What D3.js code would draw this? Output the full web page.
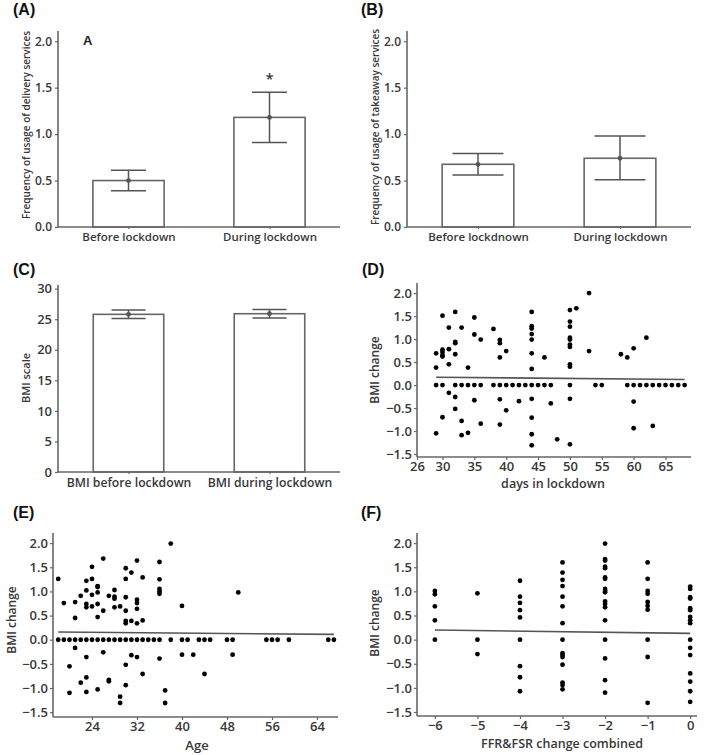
<!DOCTYPE html>
<html><head><meta charset="utf-8">
<script src="https://cdn.jsdelivr.net/npm/d3@7"></script>
<style>
body{margin:0;background:#fff;}
svg text{font-family:"Open Sans",sans-serif;}
</style></head>
<body><svg id="c" width="709" height="755"></svg>
<script>
// ---------- data ----------
const catsA = ["Before lockdown", "During lockdown"];
const meanA = [0.50, 1.18];
const loA = [0.39, 0.91];
const hiA = [0.61, 1.45];

const catsB = ["Before lockdnown", "During lockdown"];
const meanB = [0.675, 0.74];
const loB = [0.56, 0.51];
const hiB = [0.79, 0.98];

const catsC = ["BMI before lockdown", "BMI during lockdown"];
const meanC = [25.8, 25.9];
const loC = [25.1, 25.2];
const hiC = [26.5, 26.6];

const ticksAB = [0, 0.5, 1.0, 1.5, 2.0];
const ticksC = [0, 5, 10, 15, 20, 25, 30];
const ticksBMIchange = [-1.5, -1.0, -0.5, 0.0, 0.5, 1.0, 1.5, 2.0];
const ticksDays = [26, 30, 35, 40, 45, 50, 55, 60, 65];
const ticksAge = [24, 32, 40, 48, 56, 64];
const ticksFFR = [-6, -5, -4, -3, -2, -1, 0];

// D: days in lockdown vs BMI change
const daysX = [29,29,29,29, 30,30,30,30,30,30,30, 31,31,31,31, 32,32,32,32,32,32,32, 33,33,33,33, 34,34,34, 35,35,35,35, 36,36,36, 38,38, 39,39,39,39,39,39, 40,40,40, 41, 42,42, 43,
 44,44,44,44,44,44,44,44,44,44,44,44, 45, 46,46, 47,47, 48,
 50,50,50,50,50,50,50,50,50,50,50,50, 51, 53,53, 54, 55, 58, 59,59, 60,60,60,60, 61, 62,62, 63,63, 64, 65, 66, 67, 68];
const daysY = [-1.05,0.38,0.69,0, 0,1.51,0.77,0.72,0.65,0.62,-0.70, 1.25,0.78,0.45,-0.17, 1.59,0.94,0.91,0.67,0,-0.26,-0.52, 1.25,0,-0.78,-1.09, 0.38,0,-1.04, 1.47,1.10,0,-0.33, 0.99,0,-0.84, 1.22,0, 0.98,0.91,0.60,0,-0.31,-0.86, 0.74,0,-0.55, 0, -0.35,0, 0,
 1.59,1.28,1.23,1.11,0.99,0.69,0.35,0,-0.30,-0.71,-1.07,-1.31, 0, 0.60,0, 0,-0.40, -1.18,
 1.63,1.38,1.27,1.03,0.99,0.88,0.83,0.45,0.40,0,-0.30,-1.29, 1.67, 2.0,0.74, 0, 0, 0.67, 0.60,0, 0.80,0,-0.36,-0.94, 0, 1.03,0, -0.89,0, 0, 0, 0, 0, 0];
const trendD = [[29, 0.17], [68, 0.12]];

// E: age vs BMI change
const ageX = [18,18, 19,19, 20,20,20, 21,21,21,21, 22,22,22, 23,23,23,23,23,23,23,23, 24,24,24,24,24, 25,25,25,25,25,25,25, 26,26,26,26, 27,27,27,27, 28,28,28,28,28, 29,29,29,29,
 30,30,30,30,30,30,30,30,30, 31,31,31,31, 32,32,32,32,32,32,32, 33,33,33,33, 34, 35, 36,36,36,36,36,36,36, 37,37, 38,38, 40,40,40, 41, 42, 43, 44,44, 45, 48, 49,49, 50, 55, 56, 57, 59, 66, 67];
const ageY = [1.26,0, 0.76,0, -1.10,-0.55,0, 0.78,0.45,-0.17,0, 0.91,-0.89,0, 1.22,1.02,0.74,0.67,-0.36,-0.78,-1.08,0, 1.51,1.26,0.93,0.69,0, 1.11,1.09,0.98,0.74,0.47,-1.03,0, 1.68,0.60,-0.26,0, 0.91,-0.83,-0.86,0, 1.03,0.89,0.85,0.67,0, 0.69,-1.18,-1.31,0,
 1.48,1.26,0.88,0.60,0.39,0.34,-0.52,-0.94,0, 1.39,0.39,-0.32,0, 1.64,0.83,0.76,0.64,0.34,-0.36,0, 1.29,0.40,-0.71,0, 0, 0, 1.61,1.25,1.05,1.00,0.95,-0.39,0, -1.05,-1.31, 1.99,0, 0.70,-0.31,0, 0, -0.31, 0, 0,-0.71, 0, 0, 0,-0.31, 0.98, 0, 0, 0, 0, 0, 0];
const trendE = [[18, 0.16], [67, 0.11]];

// F: FFR&FSR change combined vs BMI change
const ffrX = [-6,-6,-6,-6,-6, -5,-5,-5, -4,-4,-4,-4,-4,-4,-4,-4,-4,
 -3,-3,-3,-3,-3,-3,-3,-3,-3,-3,-3,-3,-3,-3,-3,
 -2,-2,-2,-2,-2,-2,-2,-2,-2,-2,-2,-2,-2,-2,-2,-2,-2,-2,
 -1,-1,-1,-1,-1,-1,-1,-1,-1,-1,
 0,0,0,0,0,0,0,0,0,0,0,0,0,0,0,0];
const ffrY = [1.01,0.94,0.69,0.40,0, 0.96,0,-0.30, 1.22,0.89,0.76,0.61,0.46,0,-0.55,-0.78,-1.07,
 1.60,1.39,1.24,1.11,0.89,0.69,0.34,0,-0.28,-0.32,-0.36,-0.52,-0.89,-0.94,-1.03,
 1.99,1.67,1.64,1.51,1.48,1.29,1.26,1.05,1.01,0.98,0.79,0.74,0.67,0.40,0,-0.39,-0.84,-1.10,
 1.60,1.26,1.01,0.95,0.78,0.70,0.62,0,-0.36,-1.31,
 1.10,1.05,0.88,0.85,0.65,0.61,0.47,0.40,0.34,0,-0.17,-0.32,-0.70,-0.87,-1.07,-1.29];
const trendF = [[-6, 0.20], [0, 0.13]];

// ---------- drawing ----------
const svg = d3.select("#c");
const AX = "#666", TXT = "#383838";

function panelLabel(t, x, y) {
  svg.append("text").attr("x", x).attr("y", y).text(t)
    .style("font-family", "Arial, 'Liberation Sans', sans-serif")
    .attr("font-size", 16).attr("font-weight", "bold").attr("fill", "#111");
}

function styleAxis(g, fs) {
  g.select(".domain").attr("stroke", AX).attr("stroke-width", 1.6);
  g.selectAll(".tick line").attr("stroke", AX).attr("stroke-width", 1.2);
  g.selectAll(".tick text").attr("fill", TXT).attr("font-size", fs).attr("font-weight", 600);
}

function yTitle(t, x, y, fs) {
  svg.append("text").attr("transform", `translate(${x},${y}) rotate(-90)`)
    .attr("text-anchor", "middle").attr("dominant-baseline", "middle")
    .attr("font-size", fs).attr("font-weight", 600).attr("fill", TXT).text(t);
}
function xTitle(t, x, y, fs) {
  svg.append("text").attr("x", x).attr("y", y).attr("text-anchor", "middle")
    .attr("font-size", fs).attr("font-weight", 600).attr("fill", TXT).text(t);
}

function barPanel(o) {
  const x = d3.scalePoint().domain(o.cats).range([o.x0, o.x1]).padding(0.5);
  const y = d3.scaleLinear().domain(o.ydom).range([o.y0, o.y1]);
  const g = svg.append("g");
  const rows = o.cats.map((c, i) => ({c, m: o.mean[i], lo: o.lo[i], hi: o.hi[i]}));
  const bw = x.step() * o.bwf;
  g.selectAll("rect.bar").data(rows).join("rect").attr("class", "bar")
    .attr("x", d => x(d.c) - bw / 2).attr("width", bw)
    .attr("y", d => y(d.m)).attr("height", d => y(0) - y(d.m))
    .attr("fill", "#fff").attr("stroke", AX).attr("stroke-width", 1.6);
  g.selectAll("line.v").data(rows).join("line")
    .attr("x1", d => x(d.c)).attr("x2", d => x(d.c))
    .attr("y1", d => y(d.lo)).attr("y2", d => y(d.hi))
    .attr("stroke", "#555").attr("stroke-width", 1.5);
  ["lo", "hi"].forEach(k => {
    g.selectAll("line.c" + k).data(rows).join("line")
      .attr("x1", d => x(d.c) - o.cap / 2).attr("x2", d => x(d.c) + o.cap / 2)
      .attr("y1", d => y(d[k])).attr("y2", d => y(d[k]))
      .attr("stroke", "#555").attr("stroke-width", 1.5);
  });
  g.selectAll("circle").data(rows).join("circle")
    .attr("cx", d => x(d.c)).attr("cy", d => y(d.m)).attr("r", 2.4).attr("fill", "#555");
  const ya = g.append("g").attr("transform", `translate(${o.x0},0)`)
    .call(d3.axisLeft(y).tickValues(o.ticks).tickFormat(o.fmt).tickSize(3).tickPadding(3));
  ya.select(".domain").attr("d", `M0,${o.y1}V${o.y0}`);
  styleAxis(ya, o.fs);
  const xa = g.append("g").attr("transform", `translate(0,${o.y0})`)
    .call(d3.axisBottom(x).tickSize(2).tickPadding(4));
  xa.select(".domain").attr("d", `M${o.x0},0H${o.x1}`);
  styleAxis(xa, o.cfs);
  return {x, y, g};
}

function scatterPanel(o) {
  const x = d3.scaleLinear().domain(o.xdom).range([o.x0, o.x1]);
  const y = d3.scaleLinear().domain(o.ydom).range([o.y0, o.y1]);
  const g = svg.append("g");
  const pts = o.xs.map((v, i) => [v, o.ys[i]]);
  g.selectAll("circle").data(pts).join("circle")
    .attr("cx", d => x(d[0])).attr("cy", d => y(d[1])).attr("r", 2.4).attr("fill", "#000");
  g.append("path").datum(o.trend)
    .attr("d", d3.line().x(d => x(d[0])).y(d => y(d[1])))
    .attr("stroke", "#555").attr("stroke-width", 1.6).attr("fill", "none");
  const ya = g.append("g").attr("transform", `translate(${o.x0},0)`)
    .call(d3.axisLeft(y).tickValues(ticksBMIchange).tickFormat(d3.format(".1f")).tickSize(3).tickPadding(2));
  ya.select(".domain").attr("d", `M0,${o.y1}V${o.y0}`);
  styleAxis(ya, o.fs);
  const xa = g.append("g").attr("transform", `translate(0,${o.y0})`)
    .call(d3.axisBottom(x).tickValues(o.xticks).tickFormat(d3.format("d")).tickSize(3).tickPadding(2));
  xa.select(".domain").attr("d", `M${o.x0},0H${o.x1}`);
  styleAxis(xa, o.fs);
  return {x, y, g};
}

// (A)
panelLabel("(A)", 13, 15);
const pA = barPanel({cats: catsA, mean: meanA, lo: loA, hi: hiA, x0: 58, x1: 340, y0: 227, y1: 31,
  ydom: [0, 2.11], ticks: ticksAB, fmt: d3.format(".1f"), bwf: 0.505, cap: 35, fs: 12, cfs: 11.5});
yTitle("Frequency of usage of delivery services", 27, 125, 10);
svg.append("text").attr("x", 83).attr("y", 45).text("A")
  .style("font-family", "Arial, 'Liberation Sans', sans-serif")
  .attr("font-size", 13).attr("font-weight", "bold").attr("fill", "#222");
svg.append("text").attr("x", pA.x(catsA[1])).attr("y", pA.y(hiA[1]) - 8).attr("text-anchor", "middle")
  .attr("font-size", 14).attr("font-weight", 600).attr("fill", "#333").text("*");

// (B)
panelLabel("(B)", 361, 15);
barPanel({cats: catsB, mean: meanB, lo: loB, hi: hiB, x0: 407, x1: 691, y0: 227, y1: 31,
  ydom: [0, 2.11], ticks: ticksAB, fmt: d3.format(".1f"), bwf: 0.505, cap: 51, fs: 12, cfs: 11.5});
yTitle("Frequency of usage of takeaway services", 376, 127, 10);

// (C)
panelLabel("(C)", 13, 275);
barPanel({cats: catsC, mean: meanC, lo: loC, hi: hiC, x0: 58, x1: 340, y0: 472, y1: 285,
  ydom: [0, 30.6], ticks: ticksC, fmt: d3.format("d"), bwf: 0.5, cap: 34, fs: 13, cfs: 12.2});
yTitle("BMI scale", 27, 378, 11);

// (D)
panelLabel("(D)", 362, 275);
scatterPanel({xs: daysX, ys: daysY, trend: trendD, x0: 417, x1: 691, y0: 457, y1: 283,
  xdom: [26, 69], ydom: [-1.565, 2.22], xticks: ticksDays, fs: 13});
yTitle("BMI change", 376, 370, 12);
xTitle("days in lockdown", 553, 488, 12.5);

// (E)
panelLabel("(E)", 13, 518);
scatterPanel({xs: ageX, ys: ageY, trend: trendE, x0: 53, x1: 338, y0: 717, y1: 533,
  xdom: [17.07, 67.73], ydom: [-1.60, 2.21], xticks: ticksAge, fs: 13});
yTitle("BMI change", 13, 620, 12);
xTitle("Age", 197, 750, 13);

// (F)
panelLabel("(F)", 361, 518);
scatterPanel({xs: ffrX, ys: ffrY, trend: trendF, x0: 417, x1: 697, y0: 716, y1: 533,
  xdom: [-6.42, 0.16], ydom: [-1.583, 2.21], xticks: ticksFFR, fs: 13});
yTitle("BMI change", 376, 623, 12);
xTitle("FFR&FSR change combined", 562, 748, 12.5);
</script></body></html>
